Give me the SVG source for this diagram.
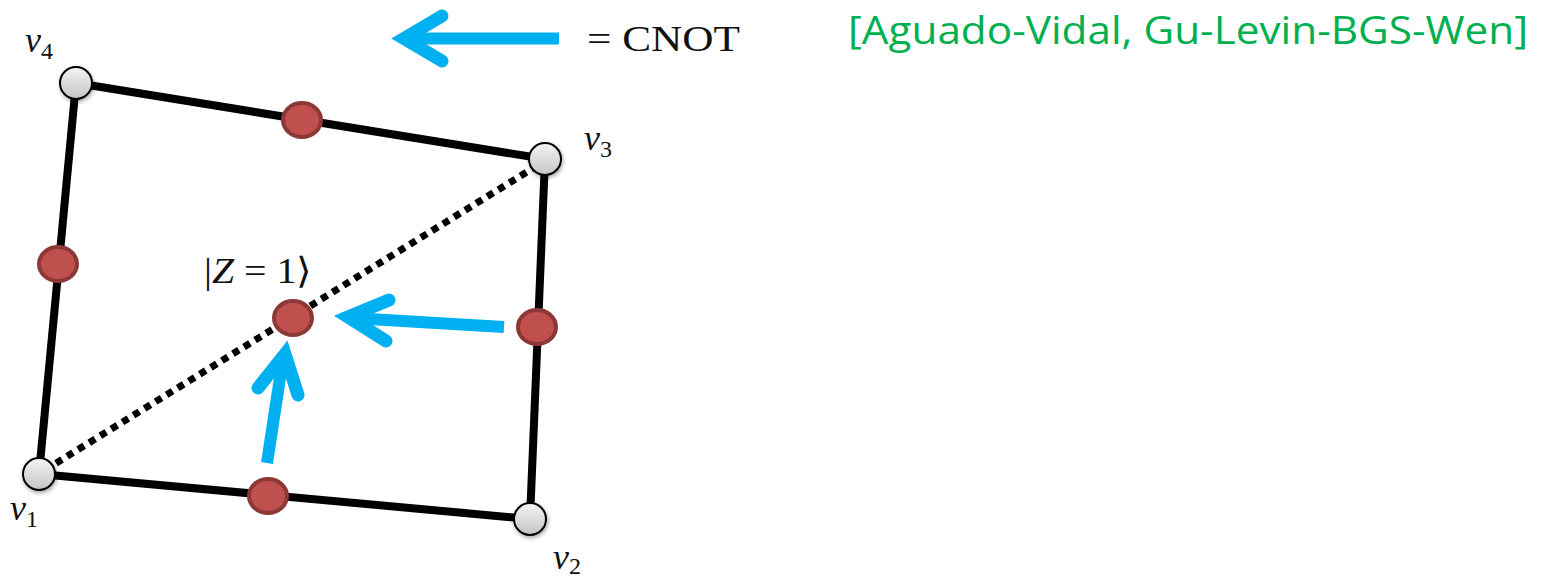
<svg xmlns="http://www.w3.org/2000/svg" width="1543" height="579" viewBox="0 0 1543 579">
<style>
.edge{stroke:#000;stroke-width:8;fill:none}
.dot{stroke:#000;stroke-width:7;fill:none;stroke-dasharray:7 6}
.arr{stroke:#00b0f0;stroke-width:12;fill:none}
.head{stroke:#00b0f0;stroke-width:13;fill:none;stroke-linecap:round;stroke-linejoin:miter;stroke-miterlimit:10}
.vert{fill:url(#g);stroke:#000;stroke-width:2;filter:url(#sh)}
.qub{fill:#c0504d;stroke:#8c3836;stroke-width:4}
.math{font-family:"Liberation Serif",serif;font-size:36px;fill:#111}
.mi{font-style:italic}
.sub{font-size:24px}
.cite{font-family:"Open Sans","Noto Sans",sans-serif;font-size:38px;fill:#00b050}
</style>
<defs>
<linearGradient id="g" x1="0" y1="0" x2="0" y2="1">
<stop offset="0" stop-color="#f4f4f4"/>
<stop offset="1" stop-color="#c4c4c4"/>
</linearGradient>
<filter id="sh" x="-50%" y="-50%" width="200%" height="200%">
<feDropShadow dx="1" dy="2" stdDeviation="2" flood-color="#000" flood-opacity="0.35"/>
</filter>
</defs>
<g id="connectors">
<line class="edge" x1="76" y1="83" x2="545" y2="159"/>
<line class="edge" x1="545" y1="159" x2="530" y2="519"/>
<line class="edge" x1="530" y1="519" x2="39" y2="474"/>
<line class="edge" x1="39" y1="474" x2="76" y2="83"/>
<line class="dot" x1="45" y1="470" x2="535" y2="167"/>
<line class="arr" x1="504" y1="327" x2="352" y2="318"/>
<polyline class="head" points="389,300 348,317 386,341"/>
<line class="arr" x1="267" y1="463" x2="283" y2="358"/>
<polyline class="head" points="258,388 285,354 298,395"/>
<line class="arr" x1="559" y1="38.5" x2="410" y2="38.5"/>
<polyline class="head" points="442,16 404,38.5 442,61"/>
</g>
<g id="v4"><circle class="vert" cx="76" cy="83" r="16"/></g>
<g id="v3"><circle class="vert" cx="545" cy="159" r="16"/></g>
<g id="v2"><circle class="vert" cx="530" cy="519" r="16"/></g>
<g id="v1"><circle class="vert" cx="39" cy="474" r="16"/></g>
<g id="e43"><ellipse class="qub" cx="302" cy="120" rx="19" ry="17"/></g>
<g id="e14"><ellipse class="qub" cx="58" cy="264" rx="19" ry="17"/></g>
<g id="e32"><ellipse class="qub" cx="537" cy="327" rx="19" ry="17"/></g>
<g id="e12"><ellipse class="qub" cx="268" cy="496" rx="19" ry="17"/></g>
<g id="e13"><ellipse class="qub" cx="293" cy="318" rx="19" ry="17"/></g>
<g id="labels">
<text class="math" x="25" y="52"><tspan class="mi">v</tspan><tspan class="sub" dy="7">4</tspan></text>
<text class="math" x="584" y="150"><tspan class="mi">v</tspan><tspan class="sub" dy="7">3</tspan></text>
<text class="math" x="553" y="569"><tspan class="mi">v</tspan><tspan class="sub" dy="5">2</tspan></text>
<text class="math" x="10" y="520"><tspan class="mi">v</tspan><tspan class="sub" dy="7">1</tspan></text>
<text class="math" x="204" y="283" textLength="108" lengthAdjust="spacingAndGlyphs">|<tspan class="mi">Z</tspan> = 1⟩</text>
<text class="math" x="587" y="51" textLength="153" lengthAdjust="spacingAndGlyphs">= CNOT</text>
<text class="cite" x="848" y="44" textLength="680" lengthAdjust="spacingAndGlyphs">[Aguado-Vidal, Gu-Levin-BGS-Wen]</text>
</g>
</svg>
